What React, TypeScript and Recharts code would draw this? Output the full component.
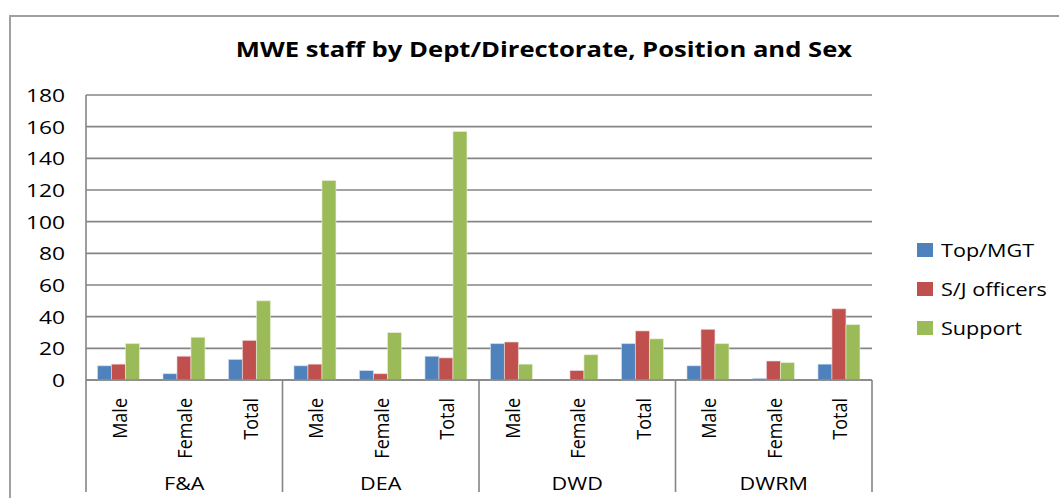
import React from 'react';
import { BarChart, Bar, XAxis, YAxis, CartesianGrid, Legend } from 'recharts';

const groups = ['F&A', 'DEA', 'DWD', 'DWRM'];
const subs = ['Male', 'Female', 'Total'];
const seriesNames = ['Top/MGT', 'S/J officers', 'Support'];
const topMgt = [9, 4, 13, 9, 6, 15, 23, 0, 23, 9, 1, 10];
const sjOfficers = [10, 15, 25, 10, 4, 14, 24, 6, 31, 32, 12, 45];
const support = [23, 27, 50, 126, 30, 157, 10, 16, 26, 23, 11, 35];
const yTicks = [0, 20, 40, 60, 80, 100, 120, 140, 160, 180];

const data = groups.flatMap((g, gi) =>
  subs.map((s, si) => {
    const i = gi * 3 + si;
    return { key: `${g}-${s}`, group: g, sub: s, top: topMgt[i], sj: sjOfficers[i], support: support[i] };
  })
);

const W = 1059;
const H = 498;
const M = { top: 95, right: 187, left: 26, bottom: 0 };
const Y_W = 60;
const PLOT_W = W - M.left - Y_W - M.right;
const BAND = PLOT_W / data.length;
const FONT = '"Open Sans", sans-serif';
const GRID = '#858585';
const SX = 1.2;

const CatTick = (props: any) => {
  const { x, y, index } = props;
  const axisY = y - 8;
  const row = data[index];
  if (!row) return null;
  return (
    <g>
      <text
        transform={`translate(${x + 8}, ${axisY + 18}) scale(1.15, 1) rotate(-90)`}
        x={0}
        y={0}
        textAnchor="end"
        fontFamily={FONT}
        fontSize={18}
        fill="#000"
      >
        {row.sub}
      </text>
      {index % 3 === 1 && (
        <text
          transform={`translate(${x}, ${axisY + 110}) scale(${SX}, 1)`}
          x={0}
          y={0}
          textAnchor="middle"
          fontFamily={FONT}
          fontSize={18}
          fill="#000"
        >
          {row.group}
        </text>
      )}
      {index % 3 === 0 && (
        <line x1={x - BAND / 2} x2={x - BAND / 2} y1={axisY} y2={axisY + 112} stroke={GRID} strokeWidth={1.6} />
      )}
      {index === data.length - 1 && (
        <line x1={x + BAND / 2} x2={x + BAND / 2} y1={axisY} y2={axisY + 112} stroke={GRID} strokeWidth={1.6} />
      )}
    </g>
  );
};

const YTick = (props: any) => {
  const { x, y, payload } = props;
  return (
    <text
      transform={`translate(${x}, ${y}) scale(${SX}, 1)`}
      x={0}
      y={0}
      dy="0.36em"
      textAnchor="end"
      fontFamily={FONT}
      fontSize={19}
      fill="#000"
    >
      {payload.value}
    </text>
  );
};

const LegendContent = (props: any) => {
  const { payload } = props;
  const items = [...(payload || [])].sort(
    (a: any, b: any) => seriesNames.indexOf(a.value) - seriesNames.indexOf(b.value)
  );
  return (
    <div style={{ fontFamily: FONT, fontSize: 18, color: '#000' }}>
      {items.map((p: any) => (
        <div key={p.value} style={{ display: 'flex', alignItems: 'center', height: 39 }}>
          <span style={{ display: 'inline-block', width: 16, height: 14, background: p.color, marginRight: 8 }} />
          <span style={{ display: 'inline-block', transform: `scaleX(${SX})`, transformOrigin: 'left center', whiteSpace: 'nowrap' }}>
            {p.value}
          </span>
        </div>
      ))}
    </div>
  );
};

export default function App() {
  return (
    <div style={{ position: 'absolute', left: 0, top: 0, width: W, height: H, background: '#fff', overflow: 'hidden' }}>
      <div
        style={{
          position: 'absolute',
          left: 9,
          top: 15,
          width: W,
          height: H,
          borderLeft: '2px solid #a0a0a0',
          borderTop: '2px solid #a0a0a0',
        }}
      />
      <div
        style={{
          position: 'absolute',
          left: 44,
          width: 1000,
          top: 35,
          textAlign: 'center',
          fontFamily: FONT,
          fontWeight: 700,
          fontSize: 21,
          lineHeight: 1.362,
          color: '#000',
          transform: 'scaleX(1.22)',
          transformOrigin: '500px 50%',
        }}
      >
        MWE staff by Dept/Directorate, Position and Sex
      </div>
      <div style={{ position: 'absolute', left: 0, top: 0 }}>
        <BarChart width={W} height={H} data={data} margin={M} barCategoryGap="17.5%" barGap={0}>
          <CartesianGrid vertical={false} stroke={GRID} strokeWidth={1.6} />
          <XAxis
            dataKey="key"
            interval={0}
            tickLine={false}
            axisLine={{ stroke: GRID, strokeWidth: 1.6 }}
            height={118}
            tick={<CatTick />}
          />
          <YAxis
            width={Y_W}
            domain={[0, 180]}
            ticks={yTicks}
            interval={0}
            tickLine={false}
            tickMargin={15}
            axisLine={{ stroke: GRID, strokeWidth: 1.6 }}
            tick={<YTick />}
          />
          <Legend
            layout="vertical"
            align="center"
            verticalAlign="middle"
            wrapperStyle={{ left: 917, top: 230, width: 142 }}
            content={<LegendContent />}
          />
          <Bar dataKey="top" name={seriesNames[0]} fill="#4F81BD" stroke="#dbe5f1" strokeWidth={0.6} isAnimationActive={false} />
          <Bar dataKey="sj" name={seriesNames[1]} fill="#C0504D" stroke="#f2dcdb" strokeWidth={0.6} isAnimationActive={false} />
          <Bar dataKey="support" name={seriesNames[2]} fill="#9BBB59" stroke="#ebf1de" strokeWidth={0.6} isAnimationActive={false} />
        </BarChart>
      </div>
    </div>
  );
}
